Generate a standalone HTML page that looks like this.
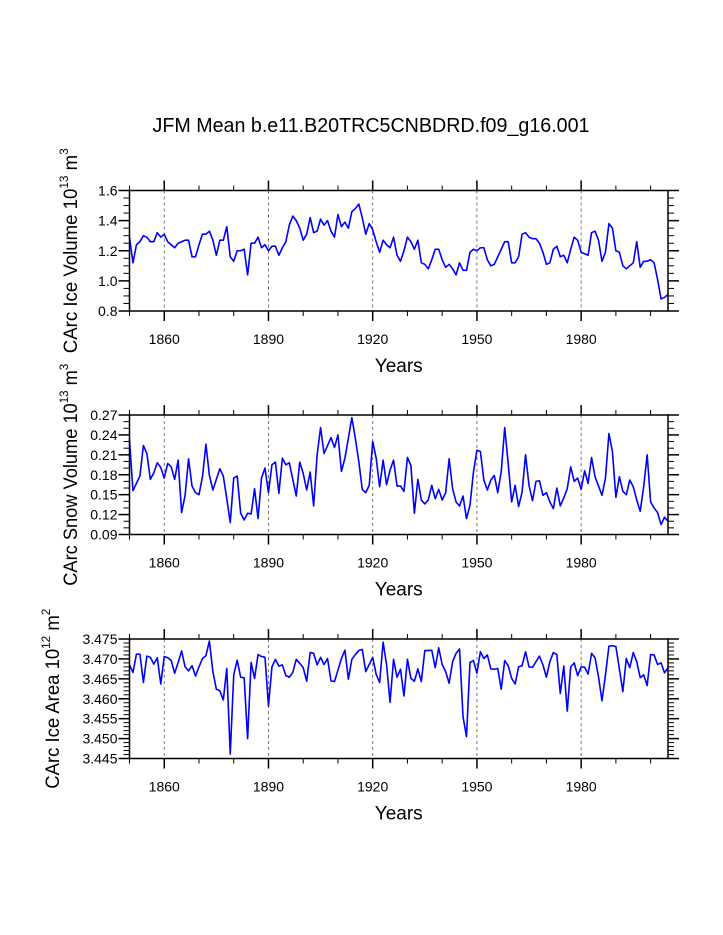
<!DOCTYPE html>
<html><head><meta charset="utf-8">
<style>
html,body{margin:0;padding:0;background:#fff;}
svg{display:block;font-family:"Liberation Sans",Arial,sans-serif;}
</style></head>
<body>
<svg id="chart" width="723" height="935" viewBox="0 0 723 935" xmlns="http://www.w3.org/2000/svg">
<text x="371" y="132" font-size="20" text-anchor="middle" textLength="437" lengthAdjust="spacingAndGlyphs">JFM Mean b.e11.B20TRC5CNBDRD.f09_g16.001</text>
</svg>
<script>
const startYear = 1850;
const xTicks = [1860, 1890, 1920, 1950, 1980];
const iceVolume = [1.29,1.12,1.24,1.26,1.30,1.29,1.26,1.26,1.32,1.29,1.31,1.26,1.24,1.22,1.25,1.26,1.27,1.27,1.16,1.16,
1.24,1.31,1.31,1.33,1.27,1.17,1.27,1.27,1.36,1.16,1.13,1.20,1.20,1.21,1.04,1.25,1.25,1.29,1.22,1.24,
1.20,1.23,1.23,1.17,1.22,1.26,1.37,1.43,1.40,1.35,1.27,1.31,1.42,1.32,1.33,1.41,1.37,1.40,1.33,1.29,
1.44,1.36,1.39,1.35,1.46,1.48,1.51,1.42,1.31,1.38,1.34,1.26,1.19,1.27,1.24,1.22,1.29,1.17,1.13,1.20,
1.29,1.26,1.21,1.27,1.12,1.11,1.08,1.14,1.21,1.21,1.14,1.09,1.11,1.08,1.04,1.12,1.07,1.07,1.19,1.21,
1.20,1.22,1.22,1.14,1.10,1.11,1.16,1.21,1.26,1.26,1.12,1.12,1.16,1.31,1.32,1.29,1.28,1.28,1.25,1.19,
1.11,1.12,1.21,1.23,1.16,1.17,1.12,1.21,1.29,1.27,1.19,1.18,1.17,1.32,1.33,1.27,1.13,1.19,1.38,1.35,
1.20,1.19,1.10,1.08,1.10,1.12,1.26,1.09,1.13,1.13,1.14,1.12,1.01,0.88,0.89,0.91];
const snowVolume = [0.232,0.156,0.167,0.178,0.224,0.212,0.173,0.183,0.198,0.191,0.175,0.197,0.192,0.173,0.202,0.123,0.149,0.204,0.163,0.153,
0.150,0.177,0.226,0.179,0.157,0.173,0.189,0.178,0.144,0.108,0.175,0.178,0.122,0.112,0.122,0.121,0.159,0.114,0.175,0.190,
0.153,0.195,0.199,0.152,0.205,0.195,0.198,0.173,0.148,0.199,0.182,0.157,0.184,0.133,0.210,0.251,0.212,0.224,0.236,0.221,
0.240,0.185,0.205,0.235,0.266,0.235,0.200,0.158,0.153,0.164,0.230,0.205,0.162,0.202,0.165,0.187,0.202,0.163,0.163,0.155,
0.206,0.194,0.122,0.173,0.142,0.136,0.142,0.164,0.144,0.158,0.142,0.153,0.204,0.159,0.139,0.133,0.148,0.114,0.134,0.184,
0.217,0.215,0.172,0.157,0.172,0.179,0.153,0.185,0.251,0.197,0.139,0.164,0.132,0.154,0.210,0.164,0.141,0.170,0.171,0.149,
0.153,0.139,0.129,0.160,0.133,0.145,0.159,0.192,0.170,0.175,0.158,0.186,0.167,0.206,0.177,0.163,0.149,0.175,0.242,0.215,
0.146,0.177,0.155,0.150,0.172,0.162,0.142,0.125,0.162,0.210,0.139,0.130,0.123,0.105,0.116,0.110];
const iceArea = [3.4685,3.4666,3.4712,3.4712,3.4641,3.4707,3.4704,3.4687,3.4703,3.4637,3.4706,3.4703,3.4696,3.4664,3.4691,3.4720,3.4680,3.4670,3.4683,3.4657,
3.4680,3.4701,3.4708,3.4745,3.4668,3.4624,3.4620,3.4597,3.4676,3.4461,3.4660,3.4697,3.4654,3.4653,3.4500,3.4691,3.4651,3.4711,3.4706,3.4704,
3.4582,3.4680,3.4699,3.4682,3.4685,3.4658,3.4654,3.4666,3.4699,3.4689,3.4678,3.4644,3.4716,3.4714,3.4685,3.4704,3.4686,3.4701,3.4645,3.4643,
3.4672,3.4701,3.4722,3.4649,3.4699,3.4711,3.4721,3.4724,3.4668,3.4686,3.4704,3.4661,3.4641,3.4742,3.4685,3.4591,3.4699,3.4654,3.4674,3.4607,
3.4699,3.4651,3.4644,3.4675,3.4643,3.4721,3.4721,3.4722,3.4678,3.4728,3.4686,3.4668,3.4639,3.4693,3.4714,3.4725,3.4555,3.4505,3.4691,3.4696,
3.4664,3.4718,3.4701,3.4710,3.4675,3.4674,3.4676,3.4624,3.4696,3.4683,3.4651,3.4637,3.4680,3.4683,3.4718,3.4680,3.4679,3.4693,3.4707,3.4685,
3.4654,3.4693,3.4716,3.4711,3.4613,3.4682,3.4569,3.4680,3.4690,3.4658,3.4680,3.4679,3.4662,3.4714,3.4703,3.4655,3.4595,3.4660,3.4732,3.4733,
3.4731,3.4675,3.4618,3.4701,3.4678,3.4716,3.4693,3.4653,3.4660,3.4633,3.4711,3.4710,3.4686,3.4690,3.4665,3.4678];
const iceVolumeTicks = ["0.8","1.0","1.2","1.4","1.6"];
const snowVolumeTicks = ["0.09","0.12","0.15","0.18","0.21","0.24","0.27"];
const iceAreaTicks = ["3.445","3.450","3.455","3.460","3.465","3.470","3.475"];

const NS="http://www.w3.org/2000/svg";
const svg=document.getElementById('chart');
const X0=129.5, X1=668, Y_END=2005;
function mk(tag,attrs,parent){const e=document.createElementNS(NS,tag);for(const k in attrs)e.setAttribute(k,attrs[k]);(parent||svg).appendChild(e);return e;}
function xScale(yr){return X0+(yr-startYear)/(Y_END-startYear)*(X1-X0);}

function panel(name,top,bottom,values,ticks,minorPer,titleMain,sup1,unit,sup2,titleX,titleLen){
  const g=mk('g',{});
  
  
  const ymin=parseFloat(ticks[0]), ymax=parseFloat(ticks[ticks.length-1]);
  const yScale=v=>bottom-(v-ymin)/(ymax-ymin)*(bottom-top);
  xTicks.forEach(t=>{
    const l=mk('line',{x1:xScale(t),x2:xScale(t),y1:top,y2:bottom,stroke:'#555','stroke-width':0.8,'stroke-dasharray':'3,3'},g);
    
    
  });
  for(let yr=1850;yr<=2005;yr+=10){
    const major=xTicks.includes(yr);
    const len=major?10:5, x=xScale(yr);
    mk('line',{x1:x,x2:x,y1:bottom,y2:bottom+len,stroke:'#000','stroke-width':major?1.5:1},g);
    mk('line',{x1:x,x2:x,y1:top,y2:top-len,stroke:'#000','stroke-width':major?1.5:1},g);
  }
  xTicks.forEach(t=>{
    const tx=mk('text',{x:xScale(t),y:bottom+33,'font-size':14,'text-anchor':'middle'},g);
    tx.textContent=t;
    
    
  });
  const step=(ymax-ymin)/(ticks.length-1);
  for(let i=0;i<ticks.length;i++){
    const y=yScale(ymin+i*step);
    mk('line',{x1:X0-11,x2:X0,y1:y,y2:y,stroke:'#000','stroke-width':1.5},g);
    mk('line',{x1:X1,x2:X1+11,y1:y,y2:y,stroke:'#000','stroke-width':1.5},g);
    const tx=mk('text',{x:X0-12,y:y+5,'font-size':14,'text-anchor':'end'},g);
    tx.textContent=ticks[i];
    
    
    if(i<ticks.length-1){
      for(let m=1;m<minorPer;m++){
        const ym=yScale(ymin+(i+m/minorPer)*step);
        mk('line',{x1:X0-6,x2:X0,y1:ym,y2:ym,stroke:'#000','stroke-width':1},g);
        mk('line',{x1:X1,x2:X1+6,y1:ym,y2:ym,stroke:'#000','stroke-width':1},g);
      }
    }
  }
  const d=values.map((v,i)=>(i?'L':'M')+xScale(startYear+i).toFixed(2)+','+yScale(v).toFixed(2)).join(' ');
  const p=mk('path',{d:d,fill:'none',stroke:'#0000ff','stroke-width':1.6,'stroke-linejoin':'round'},g);
  
  
  const r=mk('rect',{x:X0,y:top,width:X1-X0,height:bottom-top,fill:'none',stroke:'#000','stroke-width':1.5},g);
  
  
  const xt=mk('text',{x:(X0+X1)/2,y:bottom+61,'font-size':19,'text-anchor':'middle'},g);
  xt.textContent='Years';
  
  
  const cy=(top+bottom)/2;
  const yt=mk('text',{x:0,y:0,'font-size':19,'text-anchor':'middle',textLength:titleLen,lengthAdjust:'spacingAndGlyphs',transform:'translate('+titleX+','+cy+') rotate(-90)'},g);
  
  
  const s1=mk('tspan',{},yt);s1.textContent=titleMain;
  const s2=mk('tspan',{'font-size':12,dy:-9},yt);s2.textContent=sup1;
  const s3=mk('tspan',{dy:9},yt);s3.textContent=unit;
  const s4=mk('tspan',{'font-size':12,dy:-9},yt);s4.textContent=sup2;
}
panel('ice-volume',190.5,311,iceVolume,iceVolumeTicks,4,'CArc Ice Volume 10','13',' m','3',77,205);
panel('snow-volume',415,534.5,snowVolume,snowVolumeTicks,3,'CArc Snow Volume 10','13',' m','3',77,222);
panel('ice-area',639,758.5,iceArea,iceAreaTicks,5,'CArc Ice Area 10','12',' m','2',59,180);
</script>
</body></html>
